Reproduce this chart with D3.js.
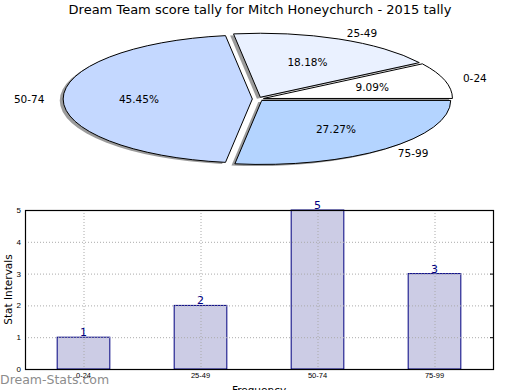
<!DOCTYPE html>
<html>
<head>
<meta charset="utf-8">
<script src="https://cdn.jsdelivr.net/npm/d3@7"></script>
<style>
  body { margin: 0; background: #fff; }
  svg { display: block; font-family: "DejaVu Sans", sans-serif; }
</style>
</head>
<body>
<svg id="chart" width="520" height="390"></svg>
<script>
// data
var categories = ['0-24', '25-49', '50-74', '75-99'];
var counts = [1, 2, 5, 3];
var sliceColors = ['#ffffff', '#eaf1ff', '#c4d8ff', '#b4d4ff'];
var explode = [0.03, 0.03, 0.03, 0.03];
var yTicks = [0, 1, 2, 3, 4, 5];

var svg = d3.select('#chart');

// title
svg.append('text')
    .attr('x', 260)
    .attr('y', 14)
    .attr('text-anchor', 'middle')
    .style('font-size', '13px')
    .text('Dream Team score tally for Mitch Honeychurch - 2015 tally');

// ---- pie (squashed to an ellipse) ----
var cx = 258, cy = 99, rx = 189, ry = 64;
var total = d3.sum(counts);

var pie = d3.pie()
    .sort(null)
    .startAngle(Math.PI / 2)
    .endAngle(Math.PI / 2 - 2 * Math.PI);
var arcs = pie(counts);

var arc = d3.arc().innerRadius(0).outerRadius(1);

var pieG = svg.append('g')
    .attr('transform', 'translate(' + cx + ',' + cy + ') scale(' + rx + ',' + ry + ')');

function offset(d, i, dist) {
    var mid = (d.startAngle + d.endAngle) / 2;
    var e = explode[i];
    return {
        x: e * Math.sin(mid) + dist * Math.sin(mid),
        y: -e * Math.cos(mid) - dist * Math.cos(mid)
    };
}

// shadows
pieG.selectAll('path.shadow')
    .data(arcs)
    .enter().append('path')
    .attr('class', 'shadow')
    .attr('transform', function(d, i) {
        var o = offset(d, i, 0);
        return 'translate(' + (o.x - 0.018) + ',' + (o.y + 0.025) + ')';
    })
    .attr('d', arc)
    .attr('fill', '#7a7a7a')
    .attr('fill-opacity', 0.75);

// slices
pieG.selectAll('path.slice')
    .data(arcs)
    .enter().append('path')
    .attr('class', 'slice')
    .attr('transform', function(d, i) {
        var o = offset(d, i, 0);
        return 'translate(' + o.x + ',' + o.y + ')';
    })
    .attr('d', arc)
    .attr('fill', function(d, i) { return sliceColors[i]; })
    .attr('stroke', '#000')
    .attr('stroke-width', 1)
    .attr('vector-effect', 'non-scaling-stroke');

// slice labels
arcs.forEach(function(d, i) {
    var o = offset(d, i, 1.1);
    var px = cx + o.x * rx, py = cy + o.y * ry;
    svg.append('text')
        .attr('x', px)
        .attr('y', py)
        .attr('dy', '0.35em')
        .attr('text-anchor', o.x > 0 ? 'start' : 'end')
        .style('font-size', '10.5px')
        .text(categories[i]);

    var p = offset(d, i, 0.6);
    svg.append('text')
        .attr('x', cx + p.x * rx)
        .attr('y', cy + p.y * ry)
        .attr('dy', '0.35em')
        .attr('text-anchor', 'middle')
        .style('font-size', '10.5px')
        .text((counts[i] / total * 100).toFixed(2) + '%');
});

// ---- bar chart ----
var bx0 = 25, bx1 = 493, by0 = 210, by1 = 369;

var xScale = d3.scaleBand()
    .domain(categories)
    .range([bx0, bx1])
    .paddingInner(0.55)
    .paddingOuter(0.275);
var yScale = d3.scaleLinear()
    .domain([0, 5])
    .range([by1, by0]);

var barG = svg.append('g');

barG.selectAll('rect.bar')
    .data(counts)
    .enter().append('rect')
    .attr('class', 'bar')
    .attr('x', function(d, i) { return xScale(categories[i]); })
    .attr('y', function(d) { return yScale(d); })
    .attr('width', xScale.bandwidth())
    .attr('height', function(d) { return yScale(0) - yScale(d); })
    .attr('fill', '#ccccE5')
    .attr('stroke', '#000080')
    .attr('stroke-width', 1);

// grid on top
var gridG = svg.append('g')
    .attr('stroke', '#aaa')
    .attr('stroke-width', 1)
    .attr('stroke-dasharray', '1,2');
gridG.selectAll('line.hg')
    .data(yTicks.slice(1, -1))
    .enter().append('line')
    .attr('x1', bx0).attr('x2', bx1)
    .attr('y1', function(d) { return yScale(d) + 0.5; })
    .attr('y2', function(d) { return yScale(d) + 0.5; });
gridG.selectAll('line.vg')
    .data(categories)
    .enter().append('line')
    .attr('y1', by0).attr('y2', by1)
    .attr('x1', function(d) { return xScale(d) + xScale.bandwidth() / 2 + 0.5; })
    .attr('x2', function(d) { return xScale(d) + xScale.bandwidth() / 2 + 0.5; });

// frame
svg.append('rect')
    .attr('x', bx0 + 0.5)
    .attr('y', by0 + 0.5)
    .attr('width', bx1 - bx0)
    .attr('height', by1 - by0)
    .attr('fill', 'none')
    .attr('stroke', '#000')
    .attr('stroke-width', 1.2);

// axes
var yAxis = d3.axisLeft(yScale).tickValues(yTicks).tickFormat(d3.format('d'))
    .tickSize(0).tickPadding(4);
svg.append('g')
    .attr('transform', 'translate(' + bx0 + ',0)')
    .call(yAxis)
    .call(function(g) {
        g.select('.domain').remove();
        g.selectAll('text').style('font-size', '8px').attr('fill', '#000');
    });

var xAxis = d3.axisBottom(xScale).tickSize(0).tickPadding(4);
svg.append('g')
    .attr('transform', 'translate(0,' + by1 + ')')
    .call(xAxis)
    .call(function(g) {
        g.select('.domain').remove();
        g.selectAll('text').style('font-size', '7.5px').attr('fill', '#000');
    });

// little inside ticks on right edge
svg.selectAll('line.rt')
    .data(yTicks)
    .enter().append('line')
    .attr('x1', bx1 - 3).attr('x2', bx1)
    .attr('y1', function(d) { return yScale(d) + 0.5; })
    .attr('y2', function(d) { return yScale(d) + 0.5; })
    .attr('stroke', '#000')
    .attr('stroke-width', 1);

// value labels
svg.selectAll('text.val')
    .data(counts)
    .enter().append('text')
    .attr('class', 'val')
    .attr('x', function(d, i) { return xScale(categories[i]) + xScale.bandwidth() / 2; })
    .attr('y', function(d) { return yScale(d) - 1; })
    .attr('text-anchor', 'middle')
    .attr('fill', '#000080')
    .style('font-size', '11px')
    .text(function(d) { return d; });

// axis titles
svg.append('text')
    .attr('transform', 'translate(12,' + ((by0 + by1) / 2) + ') rotate(-90)')
    .attr('text-anchor', 'middle')
    .style('font-size', '10.5px')
    .text('Stat Intervals');

svg.append('text')
    .attr('x', 259)
    .attr('y', 394)
    .attr('text-anchor', 'middle')
    .style('font-size', '10.5px')
    .text('Frequency');

// watermark
svg.append('text')
    .attr('x', 0)
    .attr('y', 384)
    .attr('fill', '#8c8c8c')
    .style('font-size', '12.5px')
    .text('Dream-Stats.com');
</script>
</body>
</html>
